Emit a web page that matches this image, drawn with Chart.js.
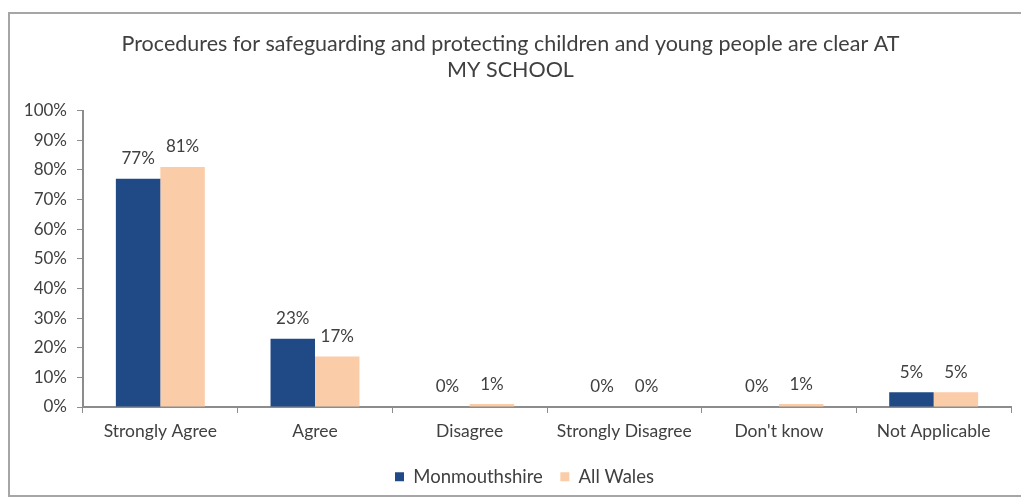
<!DOCTYPE html>
<html>
<head>
<meta charset="utf-8">
<script src="https://cdn.jsdelivr.net/npm/chart.js@4/dist/chart.umd.min.js"></script>
<style>
  html, body { margin: 0; padding: 0; background: #fff; overflow: hidden; }
  #page { position: relative; width: 1021px; height: 497px; overflow: hidden; }
  #frame {
    position: absolute; left: 8px; top: 12px; width: 1100px; height: 481px;
    border: 2px solid #a6a6a6; border-right: none;
  }
  #wrap { position: absolute; left: 0; top: 0; width: 1021px; height: 497px; }
</style>
</head>
<body>
<div id="page">
<div id="frame"></div>
<div id="wrap"><canvas id="barChart" width="1021" height="497"></canvas></div>
</div>
<script>
const categories = ['Strongly Agree', 'Agree', 'Disagree', 'Strongly Disagree', "Don't know", 'Not Applicable'];
const monmouthshire = [77, 23, 0, 0, 0, 5];
const allWales = [81, 17, 1, 0, 1, 5];
const titleLines = ['Procedures for safeguarding and protecting children and young people are clear AT', 'MY SCHOOL'];

const FONT = 'Lato, "Open Sans", sans-serif';
const TEXT = '#404040';

// value labels above each bar
const barValues = {
  id: 'barValues',
  afterDatasetsDraw(chart) {
    const ctx = chart.ctx;
    ctx.save();
    ctx.font = '17px ' + FONT;
    ctx.fillStyle = TEXT;
    ctx.textAlign = 'center';
    ctx.textBaseline = 'middle';
    chart.data.datasets.forEach((ds, i) => {
      chart.getDatasetMeta(i).data.forEach((bar, j) => {
        ctx.fillText(ds.data[j] + '%', bar.x, bar.y - 20);
      });
    });
    ctx.restore();
  }
};

// nudge the legend a little to the right
const legendShift = {
  id: 'legendShift',
  afterLayout(chart) {
    chart.legend.left += 14;
    chart.legend.right += 14;
  }
};

new Chart(document.getElementById('barChart'), {
  type: 'bar',
  data: {
    labels: categories,
    datasets: [
      { label: 'Monmouthshire', data: monmouthshire, backgroundColor: '#1f4a86', categoryPercentage: 0.575, barPercentage: 1 },
      { label: 'All Wales', data: allWales, backgroundColor: '#fbcca8', categoryPercentage: 0.575, barPercentage: 1 }
    ]
  },
  options: {
    responsive: false,
    animation: false,
    layout: { padding: { left: 10, right: 10, top: 0, bottom: 1 } },
    plugins: {
      title: {
        display: true,
        text: titleLines,
        color: TEXT,
        font: { family: FONT, size: 21.5, weight: 'normal', lineHeight: 1.2 },
        padding: { top: 31, bottom: 28 }
      },
      legend: {
        position: 'bottom',
        labels: {
          color: TEXT,
          font: { family: FONT, size: 18.5 },
          boxWidth: 9, boxHeight: 9,
          padding: 17.5
        }
      },
      tooltip: { enabled: false }
    },
    scales: {
      x: {
        grid: { drawOnChartArea: false, drawTicks: true, tickLength: 6, color: '#8c8c8c', offset: true },
        border: { color: '#8c8c8c', width: 2 },
        ticks: { color: TEXT, font: { family: FONT, size: 17.5 }, padding: 8, maxRotation: 0 }
      },
      y: {
        min: 0, max: 100,
        afterFit(scale) { scale.width = 73; },
        grid: { drawOnChartArea: false, drawTicks: true, tickLength: 6, color: '#8c8c8c' },
        border: { color: '#8c8c8c', width: 2 },
        ticks: { stepSize: 10, color: TEXT, font: { family: FONT, size: 17 }, padding: 10, callback: v => v + '%' }
      }
    }
  },
  plugins: [barValues, legendShift]
});
</script>
</body>
</html>
